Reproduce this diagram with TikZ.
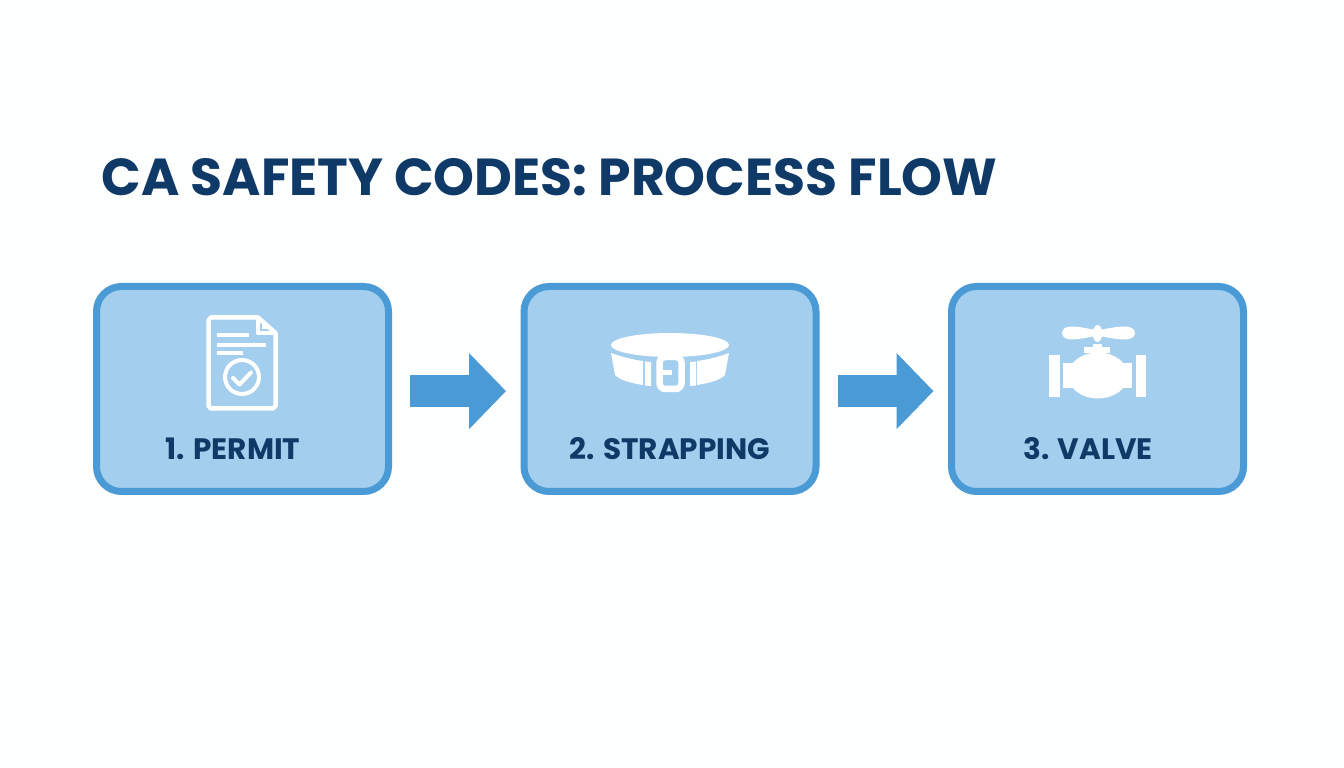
\documentclass[tikz,border=0pt]{standalone}
\usepackage{fontspec}
\setmainfont{Poppins}
\usetikzlibrary{arrows.meta}
\definecolor{pagebg}{HTML}{FDFEFE}
\definecolor{boxfill}{HTML}{A3CEED}
\definecolor{boxline}{HTML}{4A9AD6}
\definecolor{navy}{HTML}{0F3A68}
\tikzset{
  stepbox/.style={draw=boxline,fill=boxfill,line width=0.7mm,rounded corners=2.5mm,
    minimum width=29.2mm,minimum height=20.5mm,outer sep=0pt,inner sep=0pt},
  steplabel/.style={text=navy,font=\fontsize{8.4}{10}\selectfont\bfseries,inner sep=0pt},
  flow/.style={draw=boxline,line width=3.2mm,-{Triangle[length=3.7mm,width=7.4mm]},
    shorten <=2.15mm,shorten >=1.8mm},
  icon/.style={draw=white,line width=0.45mm,fill=none}
}

\begin{document}
\begin{tikzpicture}[x=0.1mm,y=-0.1mm]
    \fill[pagebg] (0,0) rectangle (1344,768);

    \node[inner sep=0pt,text=navy,anchor=west,font=\fontsize{14.8}{17}\selectfont\bfseries] (title) at (101,177){CA SAFETY CODES: PROCESS FLOW};

    \node[stepbox] (permit) at (242.5,389){};
    \node[stepbox] (strapping) at (670,389){};
    \node[stepbox] (valve) at (1097.5,389){};

    \node[steplabel] (permitlabel) at (233,449){1. PERMIT};
    \node[steplabel] (strappinglabel) at (670,449){2. STRAPPING};
    \node[steplabel] (valvelabel) at (1088,449){3. VALVE};

    \draw[flow] ([yshift=-0.6pt]permit.east)--([yshift=-0.6pt]strapping.west);
    \draw[flow] ([yshift=-0.6pt]strapping.east)--([yshift=-0.6pt]valve.west);

    \draw[icon,line join=round] (258,317.5)--(211,317.5)--(208.5,320)--(208.5,406)--(211,408.5)--(273,408.5)--(275.5,406)--(275.5,333)--cycle;
    \draw[icon,line join=round,line width=0.4mm] (258,317.5)--(258,333)--(275.5,333);
    \fill[white] (262,322)--(262,329)--(269,329)--cycle;
    \fill[white] (217,333) rectangle (249,337.5);
    \fill[white] (217,343) rectangle (266,347.5);
    \fill[white] (217,351) rectangle (243,355.5);
    \draw[icon,line width=0.4mm] (242,377) circle (17);
    \draw[icon,line width=0.4mm,line cap=round,line join=round] (233,378)--(239.5,384.5)--(251,372.5);

    \fill[white] (670,345) ellipse (59 and 12);
    \fill[white] (611,353) .. controls (625,358) and (635,360) .. (643,361)--(643,385) .. controls (630,383) and (620,380) .. (615,375)--cycle;
    \fill[white] (729,353) .. controls (715,358) and (705,360) .. (697,361)--(697,385) .. controls (710,383) and (720,380) .. (725,375)--cycle;
    \fill[white] (645,361.5)--(651,362)--(651,386)--(645,385.5)--cycle;
    \fill[white] (690,362)--(696,361.5)--(696,385.5)--(690,386)--cycle;
    \draw[icon,line width=0.65mm,rounded corners=0.6mm,fill=boxfill] (659.5,357)--(681.5,357)--(681.5,389)--(659.5,389)--cycle;
    \fill[white] (662,370) rectangle (672,375);

    \fill[white] (1062,333) .. controls (1063,324) and (1075,326) .. (1093,329.5)--(1102,329.5) .. controls (1120,326) and (1134,324) .. (1135,333) .. controls (1134,342) and (1120,340) .. (1102,336.5)--(1093,336.5) .. controls (1075,340) and (1063,342) .. (1062,333)--cycle;
    \fill[white] (1097.5,333.5) ellipse (4.8 and 8.5);
    \fill[white] (1093,344) rectangle (1102,348);
    \fill[white] (1084,347.5) rectangle (1110,353);
    \fill[white] (1092,353) rectangle (1103,358);
    \fill[white] (1098,375.5) ellipse (30 and 23);
    \fill[white] (1063,363) rectangle (1132,388);
    \fill[white] (1049,355) rectangle (1060,397);
    \fill[white] (1136,355) rectangle (1146,397);
\end{tikzpicture}
\end{document}
